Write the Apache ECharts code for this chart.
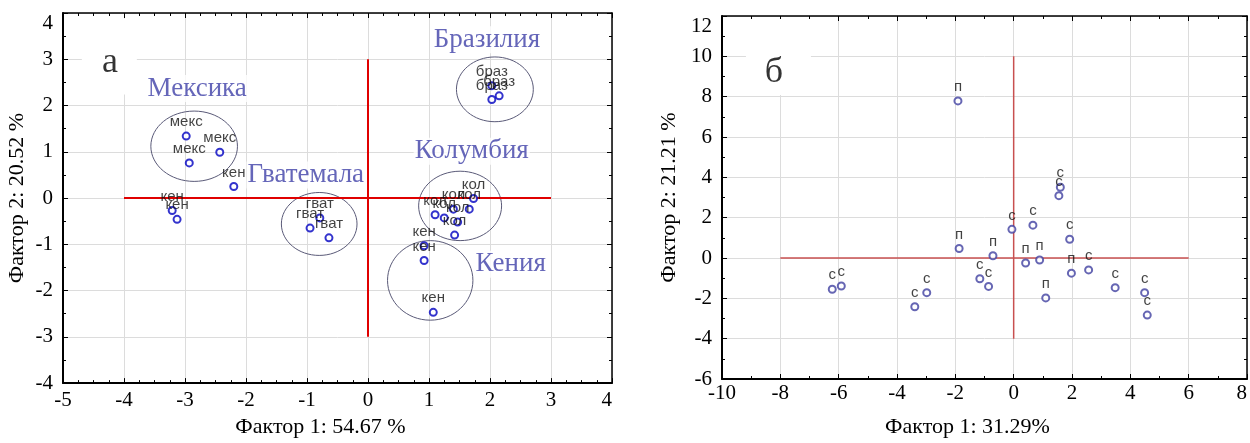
<!DOCTYPE html>
<html>
<head>
<meta charset="utf-8">
<script src="https://cdn.jsdelivr.net/npm/echarts@6/dist/echarts.min.js"></script>
<style>html,body{margin:0;padding:0;background:#fff}#c{width:1250px;height:443px}</style>
</head>
<body>
<div id="c"></div>
<script>
// ---------- Panel а ----------
const axisA = { xMin: -5, xMax: 4, xStep: 1, yMin: -4, yMax: 4, yStep: 1 };
const mexPts  = [[-2.98, 1.34], [-2.43, 0.99], [-2.93, 0.76]];
const kenPts  = [[-2.20, 0.25], [-3.21, -0.27], [-3.13, -0.46], [0.92, -1.03], [0.92, -1.35], [1.07, -2.47]];
const gvatPts = [[-0.79, -0.43], [-0.95, -0.65], [-0.64, -0.86]];
const kolPts  = [[1.73, -0.01], [1.40, -0.24], [1.66, -0.24], [1.10, -0.36], [1.25, -0.43], [1.47, -0.52], [1.42, -0.80]];
const brazPts = [[2.03, 2.43], [2.15, 2.21], [2.03, 2.13]];
const groupLabelsA = ['мекс', 'кен', 'гват', 'кол', 'браз'];
// ellipses: [cx, cy, rx, ry]
const clusterEllipses = [[-2.85, 1.12, 0.71, 0.76], [-0.80, -0.56, 0.62, 0.68], [1.51, -0.17, 0.68, 0.75], [1.02, -1.78, 0.70, 0.86], [2.08, 2.35, 0.63, 0.70]];
const countryNames = ['Мексика', 'Гватемала', 'Бразилия', 'Колумбия', 'Кения'];
const countryPos = [[-2.80, 2.37], [-1.02, 0.50], [1.95, 3.42], [1.70, 1.01], [2.34, -1.43]];
const crossA_h = [[-4, 0], [3, 0]];
const crossA_v = [[0, 3], [0, -3]];
const titleA = 'а', titleAPos = [-4.23, 2.92], titleABoxPos = [-4.24, 3.06];
const xNameA = 'Фактор 1: 54.67 %', yNameA = 'Фактор 2: 20.52 %';

// ---------- Panel б ----------
const axisB = { xMin: -10, xMax: 8, xStep: 2, yMin: -6, yMax: 12, yStep: 2 };
const sPts = [[-6.22, -1.55], [-5.91, -1.39], [-3.39, -2.42], [-2.98, -1.72], [-1.16, -1.03], [-0.86, -1.41], [-0.06, 1.42], [0.66, 1.63], [1.60, 3.51], [1.55, 3.09], [1.92, 0.93], [2.57, -0.59], [3.48, -1.47], [4.49, -1.72], [4.58, -2.83]];
const pPts = [[-1.91, 7.79], [-1.87, 0.47], [-0.71, 0.11], [0.41, -0.25], [0.89, -0.10], [1.10, -1.98], [1.98, -0.75]];
const groupLabelsB = ['с', 'п'];
const crossB_h = [[-8, 0], [6, 0]];
const crossB_v = [[0, 10], [0, -4]];
const titleB = 'б', titleBPos = [-8.22, 9.19], titleBBoxPos = [-8.065, 9.97];
const xNameB = 'Фактор 1: 31.29%', yNameB = 'Фактор 2: 21.21 %';

const SERIF = "'Liberation Serif','Times New Roman',serif";
const SANS = "'Liberation Sans',Arial,sans-serif";

function mainX(ax, grid, name, gap, minorSplit, lblMargin) {
  return {
    type: 'value', gridIndex: grid, min: ax.xMin, max: ax.xMax, interval: ax.xStep,
    name: name, nameLocation: 'middle', nameGap: gap,
    nameTextStyle: { fontFamily: SERIF, fontSize: 22, color: '#000', padding: [0, 34, 0, 0] },
    axisLine: { show: true, onZero: false, lineStyle: { color: '#000', width: 2 } },
    axisTick: { show: true, inside: true, length: 5, lineStyle: { color: '#000', width: 1 } },
    minorTick: { show: true, splitNumber: minorSplit, length: 3, lineStyle: { color: '#000', width: 1 } },
    axisLabel: { fontFamily: SERIF, fontSize: 21, color: '#000', margin: lblMargin, alignMaxLabel: 'right' },
    splitLine: { show: true, lineStyle: { color: '#dcdcdc', width: 1 } }
  };
}
function topX(ax, grid, minorSplit) {
  return {
    type: 'value', gridIndex: grid, position: 'top', min: ax.xMin, max: ax.xMax, interval: ax.xStep,
    axisLine: { show: true, onZero: false, lineStyle: { color: '#000', width: 1.5 } },
    axisTick: { show: true, inside: true, length: 5, lineStyle: { color: '#000', width: 1 } },
    minorTick: { show: true, splitNumber: minorSplit, length: 3, lineStyle: { color: '#000', width: 1 } },
    axisLabel: { show: false }, splitLine: { show: false }
  };
}
function mainY(ax, grid, name, gap, minorSplit) {
  return {
    type: 'value', gridIndex: grid, min: ax.yMin, max: ax.yMax, interval: ax.yStep,
    name: name, nameLocation: 'middle', nameGap: gap,
    nameTextStyle: { fontFamily: SERIF, fontSize: 22, color: '#000' },
    axisLine: { show: true, onZero: false, lineStyle: { color: '#000', width: 2 } },
    axisTick: { show: true, inside: true, length: 5, lineStyle: { color: '#000', width: 1 } },
    minorTick: { show: true, splitNumber: minorSplit, length: 3, lineStyle: { color: '#000', width: 1 } },
    axisLabel: { fontFamily: SERIF, fontSize: 21, color: '#000', margin: 10, verticalAlignMaxLabel: 'top' },
    splitLine: { show: true, lineStyle: { color: '#dcdcdc', width: 1 } }
  };
}
function rightY(ax, grid, minorSplit) {
  return {
    type: 'value', gridIndex: grid, position: 'right', min: ax.yMin, max: ax.yMax, interval: ax.yStep,
    axisLine: { show: true, onZero: false, lineStyle: { color: '#000', width: 1.5 } },
    axisTick: { show: true, inside: true, length: 5, lineStyle: { color: '#000', width: 1 } },
    minorTick: { show: true, splitNumber: minorSplit, length: 3, lineStyle: { color: '#000', width: 1 } },
    axisLabel: { show: false }, splitLine: { show: false }
  };
}

function pointSeries(pts, text, xi, yi, color, bw) {
  return {
    type: 'scatter', xAxisIndex: xi, yAxisIndex: yi, z: 6,
    symbol: 'emptyCircle', symbolSize: 7,
    itemStyle: { color: color, borderColor: color, borderWidth: bw },
    label: { show: true, position: 'top', distance: 2, formatter: text, fontFamily: SANS, fontSize: 15, color: '#111' },
    data: pts
  };
}
function lineSeries(pts, xi, yi, color, w) {
  return {
    type: 'line', xAxisIndex: xi, yAxisIndex: yi, z: 4, symbol: 'none', silent: true,
    lineStyle: { color: color, width: w }, data: pts
  };
}
function whiteBox(pos, size, xi, yi) {
  return {
    type: 'scatter', xAxisIndex: xi, yAxisIndex: yi, z: 2, silent: true,
    symbol: 'rect', symbolSize: size, itemStyle: { color: '#fff', opacity: 1 },
    data: [pos]
  };
}
function titleLabel(text, pos, xi, yi) {
  return {
    type: 'scatter', xAxisIndex: xi, yAxisIndex: yi, z: 5, symbolSize: 0, silent: true,
    label: { show: true, position: 'inside', formatter: text, fontFamily: SERIF, fontSize: 36, color: '#000' },
    data: [pos]
  };
}

const chart = echarts.init(document.getElementById('c'), null, { renderer: 'canvas' });
const option = {
  animation: false,
  backgroundColor: '#fff',
  grid: [
    { left: 63, right: 638, top: 13, bottom: 49 },
    { left: 722, right: 2, top: 16, bottom: 58 }
  ],
  xAxis: [
    mainX(axisA, 0, xNameA, 28, 4, 7), topX(axisA, 0, 4),
    mainX(axisB, 1, xNameB, 37, 2, 4), topX(axisB, 1, 2)
  ],
  yAxis: [
    mainY(axisA, 0, yNameA, 35, 2), rightY(axisA, 0, 2),
    mainY(axisB, 1, yNameB, 42, 2), rightY(axisB, 1, 2)
  ],
  series: [
    whiteBox(titleABoxPos, [55, 76], 0, 0),
    whiteBox(titleBBoxPos, [65, 76], 2, 2),
    {
      type: 'scatter', xAxisIndex: 0, yAxisIndex: 0, z: 2, symbolSize: 0, silent: true,
      label: { show: true, position: 'inside', formatter: '{b}', fontFamily: SERIF, fontSize: 27,
        color: '#3e40a8', backgroundColor: '#fff', padding: [0, 1] },
      data: countryNames.map((n, i) => ({ name: n, value: countryPos[i] }))
    },
    {
      type: 'custom', xAxisIndex: 0, yAxisIndex: 0, z: 3, silent: true,
      renderItem: function (params, api) {
        const c = api.coord([api.value(0), api.value(1)]);
        const s = api.size([api.value(2), api.value(3)]);
        return { type: 'ellipse', shape: { cx: c[0], cy: c[1], rx: s[0], ry: s[1] },
          style: { fill: 'none', stroke: '#5a5a78', lineWidth: 1 } };
      },
      data: clusterEllipses
    },
    lineSeries(crossA_h, 0, 0, '#e00000', 2),
    lineSeries(crossA_v, 0, 0, '#e00000', 2),
    lineSeries(crossB_h, 2, 2, '#c85050', 1.5),
    lineSeries(crossB_v, 2, 2, '#c85050', 1.5),
    titleLabel(titleA, titleAPos, 0, 0),
    titleLabel(titleB, titleBPos, 2, 2),
    pointSeries(mexPts, groupLabelsA[0], 0, 0, '#0000c0', 2),
    pointSeries(kenPts, groupLabelsA[1], 0, 0, '#0000c0', 2),
    pointSeries(gvatPts, groupLabelsA[2], 0, 0, '#0000c0', 2),
    pointSeries(kolPts, groupLabelsA[3], 0, 0, '#0000c0', 2),
    pointSeries(brazPts, groupLabelsA[4], 0, 0, '#0000c0', 2),
    pointSeries(sPts, groupLabelsB[0], 2, 2, '#4040a0', 1),
    pointSeries(pPts, groupLabelsB[1], 2, 2, '#4040a0', 1)
  ]
};
chart.setOption(option);
</script>
</body>
</html>
